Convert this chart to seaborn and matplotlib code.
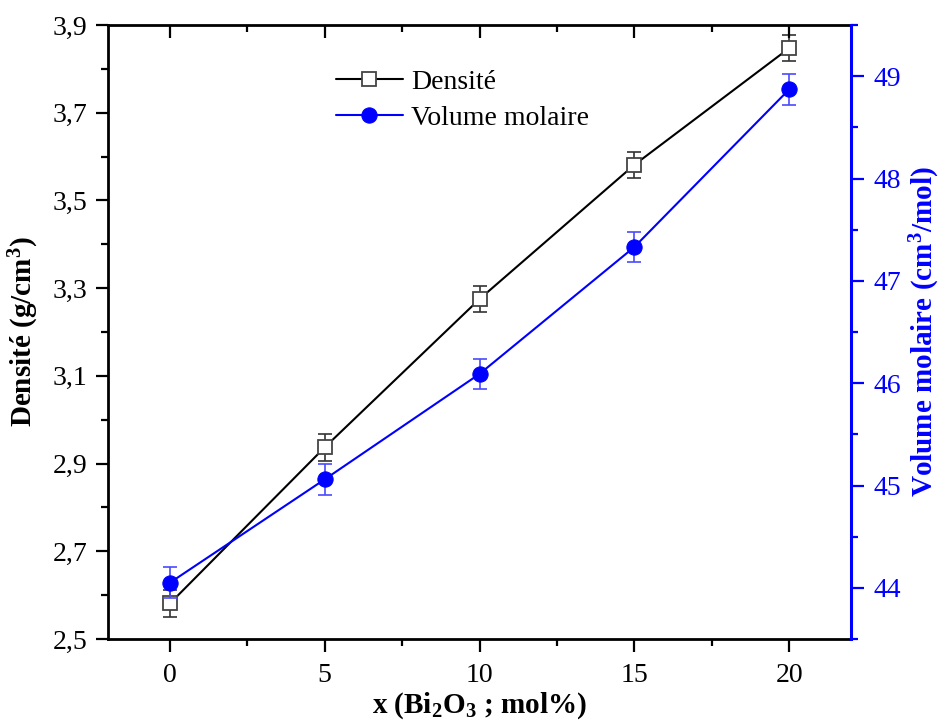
import matplotlib
matplotlib.use("Agg")
import matplotlib.pyplot as plt
import seaborn as sns
import numpy as np
import pandas as pd
from matplotlib.ticker import MultipleLocator, FuncFormatter, FixedLocator

# Data
x_bi2o3 = [0, 5, 10, 15, 20]
densite = [2.581, 2.937, 3.275, 3.581, 3.847]
densite_err = [0.03, 0.03, 0.03, 0.03, 0.03]
volume_molaire = [44.05, 45.06, 46.09, 47.33, 48.87]
volume_err = [0.15, 0.15, 0.15, 0.15, 0.15]
densite_ticks = [2.5, 2.7, 2.9, 3.1, 3.3, 3.5, 3.7, 3.9]

sns.set_theme(style="ticks")
plt.rcParams['font.family'] = ['Liberation Serif', 'DejaVu Serif']
plt.rcParams['mathtext.fontset'] = 'custom'
plt.rcParams['mathtext.rm'] = 'Liberation Serif'
plt.rcParams['mathtext.bf'] = 'Liberation Serif:bold'
plt.rcParams['mathtext.it'] = 'Liberation Serif:italic'
for k in ['text.color', 'axes.labelcolor', 'xtick.color', 'ytick.color']:
    plt.rcParams[k] = 'black'

df = pd.DataFrame({"x": x_bi2o3, "d": densite, "v": volume_molaire})

fig = plt.figure(figsize=(9.43, 7.2), dpi=100)
ax = fig.add_axes([108/943, 1-639/720, (851-108)/943, (639-25)/720])
ax2 = ax.twinx()

blue = "#0000ff"

# Density
ax.errorbar(x_bi2o3, densite, yerr=densite_err, fmt='none', ecolor='#333333',
            elinewidth=1.2, capsize=5, capthick=1.2, zorder=2)
sns.lineplot(data=df, x="x", y="d", ax=ax, color='black', linewidth=1.5,
             marker='s', markersize=10, markerfacecolor='white',
             markeredgecolor='#444444', markeredgewidth=1.3, label='Densité',
             legend=False, zorder=3)

# Volume molaire
ax2.errorbar(x_bi2o3, volume_molaire, yerr=volume_err, fmt='none', ecolor='#4a4aff',
             elinewidth=1.2, capsize=5, capthick=1.2, zorder=2)
sns.lineplot(data=df, x="x", y="v", ax=ax2, color=blue, linewidth=1.5,
             marker='o', markersize=11, markerfacecolor=blue,
             markeredgecolor=blue, label='Volume molaire', legend=False, zorder=3)

ax.set_xlim(-2, 22)
ax.set_ylim(2.5, 3.9)
ax2.set_ylim(43.5, 49.5)

ax.xaxis.set_major_locator(MultipleLocator(5))
ax.xaxis.set_minor_locator(MultipleLocator(2.5))
ax.yaxis.set_major_locator(FixedLocator(densite_ticks))
ax.yaxis.set_minor_locator(FixedLocator([t + 0.1 for t in densite_ticks[:-1]]))
ax2.yaxis.set_major_locator(MultipleLocator(1))
ax2.yaxis.set_minor_locator(MultipleLocator(0.5))

ax.yaxis.set_major_formatter(FuncFormatter(lambda v, p: f"{v:.1f}".replace('.', ',')))
ax.xaxis.set_major_formatter(FuncFormatter(lambda v, p: f"{v:g}"))

fs = 20
ax.tick_params(axis='x', which='major', direction='out', length=9, width=1.6,
               labelsize=fs, top=False, pad=8)
ax.tick_params(axis='x', which='minor', direction='out', length=5, width=1.6,
               top=False)
ax.tick_params(axis='y', which='major', direction='out', length=9, width=1.6,
               labelsize=fs, right=False, pad=6)
ax.tick_params(axis='y', which='minor', direction='out', length=5, width=1.6,
               right=False)

# top axis with inward ticks
ax3 = ax.twiny()
ax3.set_xlim(ax.get_xlim())
ax3.xaxis.set_major_locator(MultipleLocator(5))
ax3.xaxis.set_minor_locator(MultipleLocator(2.5))
ax3.tick_params(axis='x', which='major', direction='in', length=9, width=1.6,
                labeltop=False, top=True, bottom=False)
ax3.tick_params(axis='x', which='minor', direction='in', length=5, width=1.6,
                top=True, bottom=False)
ax3.tick_params(axis='y', which='both', left=False, right=False,
                labelleft=False, labelright=False)
for s in ax3.spines.values():
    s.set_visible(False)

ax2.tick_params(axis='y', which='major', direction='out', length=9, width=1.6,
                labelsize=fs, colors=blue, pad=7)
ax2.tick_params(axis='y', which='minor', direction='out', length=5, width=1.6,
                colors=blue)

for s in ['left', 'bottom', 'top']:
    ax.spines[s].set_linewidth(2.0)
    ax.spines[s].set_color('black')
ax.spines['right'].set_visible(False)
for s in ['left', 'bottom', 'top']:
    ax2.spines[s].set_visible(False)
ax2.spines['right'].set_linewidth(2.2)
ax2.spines['right'].set_color(blue)

ax.set_xlabel(r"x (Bi$_\mathbf{2}$O$_\mathbf{3}$ ; mol%)", fontsize=21,
              fontweight='bold', labelpad=2)
ax.set_ylabel(r"Densité (g/cm$^\mathbf{3}$)", fontsize=21, fontweight='bold',
              labelpad=8)
ax2.set_ylabel(r"Volume molaire (cm$^\mathbf{3}$/mol)", fontsize=21,
               fontweight='bold', color=blue, labelpad=5)

h1, l1 = ax.get_legend_handles_labels()
h2, l2 = ax2.get_legend_handles_labels()
leg = ax3.legend(h1 + h2, ['Densité', 'Volume molaire'], loc='upper left',
                 bbox_to_anchor=(325/943, 1-58/720), bbox_transform=fig.transFigure,
                 frameon=False, fontsize=fs, handlelength=2.4, handletextpad=0.3,
                 labelspacing=0.4, borderaxespad=0)

fig.savefig("out.png", dpi=100)
